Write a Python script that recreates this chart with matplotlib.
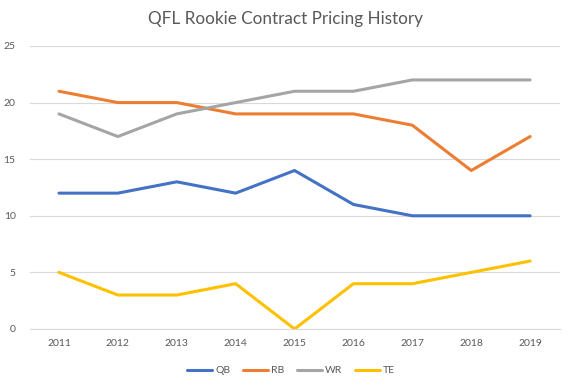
import matplotlib
matplotlib.use("Agg")
import matplotlib.pyplot as plt

plt.rcParams['font.family'] = ['Lato', 'DejaVu Sans']

years = ['2011', '2012', '2013', '2014', '2015', '2016', '2017', '2018', '2019']
qb = [12, 12, 13, 12, 14, 11, 10, 10, 10]
rb = [21, 20, 20, 19, 19, 19, 18, 14, 17]
wr = [19, 17, 19, 20, 21, 21, 22, 22, 22]
te = [5, 3, 3, 4, 0, 4, 4, 5, 6]
series = [('QB', qb, '#4472C4'), ('RB', rb, '#ED7D31'), ('WR', wr, '#A5A5A5'), ('TE', te, '#FFC000')]

fig = plt.figure(figsize=(5.71, 3.91), dpi=100)
ax = fig.add_axes([0.0517, 0.1586, 0.9283, 0.7238])
x = range(len(years))
for name, vals, col in series:
    ax.plot(x, vals, color=col, lw=2.2, label=name, solid_capstyle='round', solid_joinstyle='round')

ax.set_xlim(-0.5, len(years) - 0.5)
ax.set_ylim(0, 25)
ax.set_yticks([0, 5, 10, 15, 20, 25])
ax.set_xticks(list(x))
ax.set_xticklabels(years)
ax.grid(axis='y', color='#D9D9D9', lw=0.8)
ax.set_axisbelow(True)
for s in ['top', 'right', 'left']:
    ax.spines[s].set_visible(False)
ax.spines['bottom'].set_color('#D9D9D9')
ax.tick_params(axis='both', length=0, labelsize=7.5, colors='#595959')
ax.tick_params(axis='y', pad=10)
ax.tick_params(axis='x', pad=7)

fig.text(0.5, 0.952, 'QFL Rookie Contract Pricing History', ha='center', va='center', fontsize=12.3, color='#595959')
fig.legend(loc='center', bbox_to_anchor=(0.51, 0.052), ncol=4, frameon=False, fontsize=7.5,
           labelcolor='#595959', handlelength=2.4, handletextpad=0.3, columnspacing=1.2)

fig.savefig('out.png', dpi=100, facecolor='white')
